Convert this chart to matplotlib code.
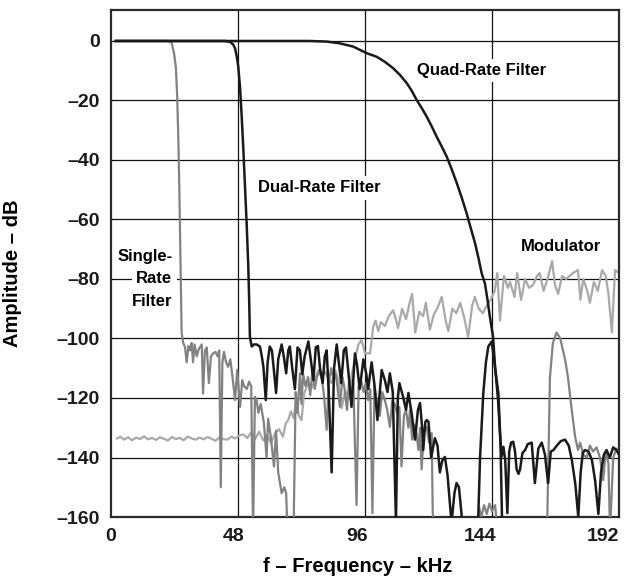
import numpy as np
import matplotlib
matplotlib.use("Agg")
import matplotlib.pyplot as plt

plt.rcParams["font.family"] = ["Liberation Sans", "DejaVu Sans"]
plt.rcParams["font.weight"] = "bold"
plt.rcParams["axes.unicode_minus"] = True

# ---- data (kHz, dB); values below -160 are off the chart ----
mod_f = [2.3, 3.5, 5.0, 6.5, 8.0, 9.5, 11.0, 12.5, 14.0, 15.5,
         17.0, 18.5, 20.0, 21.5, 23.0, 24.5, 26.0, 27.5, 29.0, 30.5,
         32.0, 33.5, 35.0, 36.5, 38.0, 39.5, 41.0, 42.5, 44.0, 45.5,
         47.0, 48.5, 50.0, 51.5, 53.0, 54.5, 56.0, 57.5, 59.0, 60.5,
         62.0, 63.5, 65.0, 66.0, 67.0, 68.0, 69.0, 70.0, 71.0, 72.0,
         73.0, 74.5, 76.0, 77.5, 78.4, 79.5, 81.0, 82.2, 83.4, 84.8,
         86.0, 87.2, 88.5, 90.0, 91.0, 92.2, 93.5, 94.7, 96.0, 97.9,
         99.1, 100.0, 101.0, 102.0, 103.5, 105.0, 106.6, 107.5, 108.5, 110.0,
         111.5, 113.0, 113.8, 115.0, 116.5, 118.0, 119.0, 120.5, 122.0, 123.5,
         125.0, 126.5, 127.5, 129.0, 130.5, 132.0, 133.5, 135.0, 136.5, 137.5,
         139.0, 140.5, 142.0, 143.5, 145.0, 146.0, 147.0, 148.5, 150.0, 150.8,
         152.5, 153.5, 155.0, 156.5, 158.0, 159.5, 161.0, 162.0, 163.5, 165.0,
         166.7, 167.8, 169.0, 170.5, 172.0, 174.6, 176.5, 177.4, 178.5, 180.0,
         181.0, 182.5, 184.0, 185.6, 187.0, 188.0, 189.3, 190.5, 192.0]
mod_db = [-133.6, -133.0, -134.0, -133.2, -134.2, -133.3, -133.8, -132.9, -133.9, -133.4,
          -134.1, -133.2, -133.7, -134.3, -133.1, -133.8, -133.4, -134.2, -133.0, -133.6,
          -134.0, -133.3, -133.9, -133.1, -133.7, -134.4, -133.2, -133.8, -134.0, -133.0,
          -133.6, -132.6, -132.2, -133.5, -131.6, -133.8, -131.3, -134.2, -132.4, -135.2,
          -131.8, -130.5, -133.0, -128.6, -127.4, -124.5, -126.8, -121.0, -126.0, -127.4,
          -118.5, -115.0, -116.5, -112.8, -110.6, -113.0, -111.2, -113.6, -115.0, -110.8,
          -114.5, -123.4, -117.5, -120.2, -112.0, -107.0, -102.0, -100.5, -105.0, -105.0,
          -96.0, -94.0, -97.5, -94.5, -95.8, -92.5, -90.5, -93.0, -96.5, -90.0,
          -93.5, -87.5, -85.0, -98.0, -91.0, -92.5, -88.0, -97.0, -92.0, -89.5,
          -86.0, -94.0, -97.5, -90.0, -91.5, -88.0, -93.0, -99.5, -89.0, -86.0,
          -90.0, -91.5, -89.0, -87.0, -84.0, -78.0, -94.0, -79.0, -83.0, -81.0,
          -86.0, -78.0, -87.0, -80.0, -83.0, -82.0, -79.0, -78.0, -84.0, -80.0,
          -74.0, -82.0, -85.0, -79.0, -80.0, -78.0, -77.0, -87.0, -80.0, -84.0,
          -88.0, -81.0, -84.0, -77.0, -79.0, -85.0, -98.0, -77.0, -78.0]

single_f = [1.8, 12.0, 21.5, 22.9, 23.8, 24.5, 25.0, 25.4, 25.8, 26.1,
            26.4, 26.7, 27.3, 28.0, 28.6, 29.3, 29.9, 30.5, 31.0, 31.6,
            32.4, 33.2, 34.3, 34.8, 35.5, 36.2, 37.0, 37.8, 38.6, 39.5,
            40.3, 40.9, 41.5, 42.1, 42.7, 43.5, 44.3, 45.1, 45.8, 46.9,
            47.7, 48.8, 49.6, 50.3, 51.3, 52.2, 53.0, 53.7, 54.4, 55.1,
            55.7, 56.6, 57.8, 58.8, 59.4, 60.4, 61.6, 62.4, 63.2, 64.5,
            65.5, 66.2, 66.7, 68.0, 69.0, 69.8, 70.5, 71.4, 72.0, 72.6,
            73.5, 74.5, 75.3, 76.2, 77.0, 77.8, 78.8, 79.6, 80.5, 81.5,
            82.3, 83.2, 84.2, 85.0, 85.8, 86.5, 87.5, 88.3, 89.2, 90.0,
            90.8, 91.6, 92.8, 93.6, 94.5, 95.5, 96.3, 97.2, 98.0, 98.8,
            99.6, 100.5, 101.6, 102.5, 103.5, 104.4, 105.4, 106.3, 107.2, 108.1,
            109.0, 109.8, 110.7, 111.5, 112.4, 113.0, 113.8, 114.6, 115.5, 116.2,
            116.8, 117.4, 118.3, 119.3, 120.2, 121.2, 121.6, 122.5, 138.5, 139.2,
            140.0, 141.0, 142.0, 143.0, 144.0, 145.2, 146.0, 164.8, 165.9, 167.0,
            168.4, 169.8, 171.6, 172.7, 174.0, 175.4, 176.5, 177.3, 178.5, 179.8,
            181.0, 182.2, 183.5, 184.8, 186.0, 187.0, 188.0, 188.6, 189.8, 191.0,
            192.0]
single_db = [0.0, 0.0, 0.0, -0.5, -4.0, -8.6, -18.0, -31.0, -48.0, -64.6,
             -82.0, -98.0, -101.5, -103.0, -108.0, -102.5, -104.0, -101.5, -108.0, -102.0,
             -106.0, -103.5, -102.0, -118.5, -104.0, -103.0, -115.0, -106.0, -105.0, -104.5,
             -106.0, -104.0, -150.0, -108.0, -104.5, -108.0, -109.5, -107.0, -112.0, -120.7,
             -110.6, -123.0, -114.0, -116.0, -117.0, -114.5, -116.0, -165.0, -119.6, -121.0,
             -125.0, -122.0, -128.5, -140.0, -127.0, -133.0, -143.0, -131.0, -145.0, -152.0,
             -150.0, -152.0, -165.0, -165.0, -165.0, -118.0, -125.0, -111.7, -122.0, -112.0,
             -116.0, -113.0, -119.0, -110.0, -117.0, -113.0, -110.6, -113.0, -119.0, -130.7,
             -115.0, -110.0, -114.0, -112.0, -118.0, -123.0, -113.0, -117.0, -124.0, -114.0,
             -119.0, -115.0, -156.0, -116.0, -114.0, -118.0, -115.0, -120.7, -117.0, -158.7,
             -116.0, -121.0, -126.0, -118.0, -120.7, -124.0, -129.7, -121.0, -122.0, -125.0,
             -123.0, -143.0, -126.0, -124.0, -130.0, -124.0, -134.0, -129.0, -132.0, -137.5,
             -130.0, -144.0, -131.0, -129.7, -135.0, -131.8, -158.7, -165.0, -165.0, -157.0,
             -160.0, -156.0, -159.0, -155.5, -158.0, -156.0, -165.0, -165.0, -113.0, -101.5,
             -98.0, -100.0, -107.0, -113.0, -123.0, -133.0, -137.5, -135.0, -139.0, -140.0,
             -136.0, -138.0, -136.6, -140.0, -147.6, -138.0, -142.0, -165.0, -140.0, -137.0,
             -139.0]

dual_f = [1.8, 43.0, 45.0, 46.2, 46.9, 47.5, 48.1, 48.8, 49.4, 50.0,
          50.6, 51.3, 51.9, 52.3, 52.5, 53.2, 54.0, 55.0, 56.3, 57.0,
          57.6, 58.5, 59.2, 60.0, 60.8, 61.5, 62.4, 63.2, 64.5, 65.3,
          66.2, 67.0, 67.6, 68.5, 69.5, 70.5, 71.4, 72.3, 73.2, 74.6,
          75.5, 76.5, 77.4, 78.2, 79.0, 80.0, 80.8, 81.5, 82.3, 83.4,
          84.3, 85.3, 86.1, 87.0, 88.0, 88.8, 89.8, 90.9, 92.2, 93.0,
          94.0, 95.4, 96.5, 97.2, 98.5, 99.5, 100.7, 102.3, 103.5, 104.5,
          105.4, 106.5, 107.7, 108.4, 109.0, 110.5, 111.5, 112.4, 113.6, 114.9,
          116.0, 116.8, 117.6, 118.0, 118.8, 119.3, 120.0, 121.0, 122.4, 123.4,
          124.3, 125.2, 126.2, 127.2, 128.7, 129.8, 130.6, 131.5, 132.8, 134.0,
          138.0, 138.8, 139.5, 140.7, 141.7, 142.6, 143.9, 145.1, 146.4, 147.2,
          148.0]
dual_db = [0.0, 0.0, -0.3, -1.2, -2.5, -5.0, -8.6, -16.0, -25.4, -36.0,
           -48.0, -62.0, -76.0, -90.0, -99.4, -102.7, -102.0, -102.0, -102.7, -106.0,
           -109.5, -120.7, -108.0, -102.7, -104.0, -110.0, -118.3, -107.0, -102.0, -106.0,
           -111.7, -104.0, -102.7, -110.0, -117.0, -103.0, -104.0, -112.0, -106.0, -101.0,
           -107.0, -114.0, -103.0, -102.5, -110.0, -115.0, -106.0, -104.0, -118.0, -145.0,
           -110.0, -102.0, -108.0, -115.0, -104.0, -103.0, -112.0, -123.0, -105.0, -109.0,
           -117.0, -107.0, -112.0, -117.0, -108.0, -115.0, -127.4, -110.6, -114.0, -118.0,
           -111.7, -118.0, -162.0, -120.0, -115.0, -120.0, -124.0, -118.3, -125.0, -134.0,
           -124.0, -121.7, -130.0, -137.5, -128.0, -127.4, -128.0, -140.0, -133.5, -136.0,
           -145.0, -141.0, -139.8, -146.0, -162.0, -152.0, -148.6, -150.0, -162.0, -170.0,
           -170.0, -160.0, -139.7, -118.5, -108.0, -102.7, -101.0, -109.5, -118.3, -135.0,
           -170.0]

quad_f = [1.8, 60.0, 75.0, 81.5, 86.5, 91.6, 94.1, 96.6, 100.4, 103.5,
          106.7, 109.3, 111.8, 113.7, 115.5, 117.4, 119.3, 121.2, 123.1, 125.0,
          126.9, 128.8, 130.7, 132.6, 134.4, 136.0, 137.6, 138.9, 140.1, 141.3,
          142.3, 143.2, 144.4, 145.2, 146.3, 147.0, 147.6, 148.3, 149.0, 149.8,
          150.5, 151.2, 152.0, 152.7, 153.3, 154.0, 154.6, 155.5, 156.5, 157.5,
          159.0, 160.2, 161.5, 162.8, 164.0, 165.2, 166.2, 167.2, 168.5, 170.0,
          171.6, 173.0, 174.2, 175.5, 176.6, 177.5, 178.3, 179.1, 180.5, 181.8,
          183.0, 184.2, 185.2, 186.3, 187.3, 188.5, 189.8, 191.0, 192.0]
quad_db = [0.0, 0.0, 0.0, -0.2, -0.8, -1.9, -3.0, -4.1, -5.3, -7.0,
           -9.2, -11.5, -14.2, -16.8, -19.8, -22.5, -25.4, -28.7, -32.2, -35.5,
           -38.9, -43.2, -47.8, -52.8, -57.9, -63.0, -68.0, -73.0, -78.1, -81.4,
           -87.0, -92.7, -99.5, -110.0, -120.7, -131.8, -139.7, -136.4, -141.0, -158.7,
           -138.0, -135.0, -134.7, -138.0, -144.0, -145.5, -144.0, -138.5, -137.5, -135.5,
           -135.0, -148.6, -137.0, -135.0, -139.0, -148.6, -138.0, -137.5, -136.0, -134.5,
           -134.0, -136.0, -141.0, -149.0, -160.0, -145.0, -138.5, -137.5, -138.0, -141.0,
           -148.0, -159.0, -145.0, -139.0, -137.5, -140.0, -136.6, -137.5, -139.0]

x_ticks = [0, 48, 96, 144, 192]
y_ticks = [0, -20, -40, -60, -80, -100, -120, -140, -160]

fig = plt.figure(figsize=(6.36, 5.83), dpi=100)
ax = fig.add_axes([0.1745, 0.1132, 0.7988, 0.8696])

# grid
for yv in y_ticks[1:-1] + [0]:
    ax.axhline(yv, color="#111111", lw=0.9, zorder=1)
for xv in x_ticks[1:-1]:
    ax.axvline(xv, color="#111111", lw=0.9, zorder=1)

ax.plot(mod_f, mod_db, color="#a9a9a9", lw=1.6, zorder=2)
ax.plot(single_f, single_db, color="#828282", lw=1.6, zorder=3)
ax.plot(dual_f, dual_db, color="#1a1a1a", lw=1.8, zorder=4)
ax.plot(quad_f, quad_db, color="#1a1a1a", lw=1.8, zorder=5)

ax.set_xlim(0, 192)
ax.set_ylim(-160, 10.4)

# x labels sit slightly left of the grid positions in the original
ax.set_xticks(np.array(x_ticks) * 0.968)
ax.set_xticklabels([str(v) for v in x_ticks])
ax.set_yticks(y_ticks)
ax.set_yticklabels(["0"] + ["\u2013%d" % -v for v in y_ticks[1:]])
ax.tick_params(length=0, labelsize=14, pad=8, colors="#1a1a1a")
for lab in ax.get_xticklabels() + ax.get_yticklabels():
    lab.set_fontweight("bold")

for s in ax.spines.values():
    s.set_color("#2a2a2a")
    s.set_linewidth(1.6)

ax.set_xlabel("f \u2013 Frequency \u2013 kHz", fontsize=14.5, fontweight="bold")
ax.set_ylabel("Amplitude \u2013 dB", fontsize=14.5, fontweight="bold")
ax.xaxis.set_label_coords(0.486, -0.079)
ax.yaxis.set_label_coords(-0.175, 0.48)

box = dict(facecolor="white", edgecolor="none", pad=3)
ax.text(139.9, -10, "Quad-Rate Filter", fontsize=12, fontweight="bold",
        ha="center", va="center", bbox=box, zorder=6)
ax.text(78.6, -49.4, "Dual-Rate Filter", fontsize=12, fontweight="bold",
        ha="center", va="center", bbox=box, zorder=6)
ax.text(170.1, -69.1, "Modulator", fontsize=12, fontweight="bold",
        ha="center", va="center", bbox=box, zorder=6)
for txt, yv in [("Single-", -72.6), ("Rate", -80.0), ("Filter", -87.7)]:
    ax.text(23.2, yv, txt, fontsize=12, fontweight="bold",
            ha="right", va="center", bbox=box, zorder=6)

plt.savefig("out.png", dpi=100)
plt.close()
